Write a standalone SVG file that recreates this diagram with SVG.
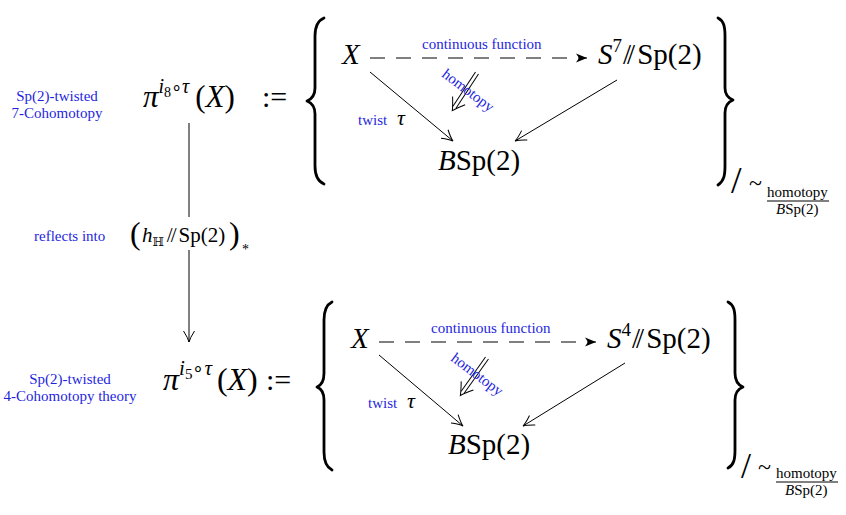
<svg xmlns="http://www.w3.org/2000/svg" width="846" height="515" viewBox="0 0 846 515" font-family="Liberation Serif, serif">
<style>
text{font-family:'Liberation Serif',serif}
.m{fill:#000}
.i{font-style:italic}
.b{fill:#1f1fe0;font-size:15px}
.ln{stroke:#000;stroke-width:1;fill:none}
.br{stroke:#000;stroke-width:2.8;fill:none;stroke-linecap:round;stroke-linejoin:round}
</style>
<defs>
<marker id="ah" viewBox="-13 -7 15 14" refX="0" refY="0" markerWidth="15" markerHeight="14" orient="auto" markerUnits="userSpaceOnUse">
<path d="M-11,-5.5 Q-4,-1 0,0 Q-4,1 -11,5.5" fill="none" stroke="#000" stroke-width="1"/>
</marker>
<marker id="st" viewBox="-13 -7 15 14" refX="0" refY="0" markerWidth="15" markerHeight="14" orient="auto" markerUnits="userSpaceOnUse">
<path d="M-11,-4.5 L0,0 L-11,4.5 L-8,0 Z" fill="#000"/>
</marker>
</defs>

<!-- left labels -->
<g id="label-top">
<text class="b" x="57" y="101" text-anchor="middle">Sp(2)-twisted</text>
<text class="b" x="57" y="118" text-anchor="middle">7-Cohomotopy</text>
</g>
<g id="label-mid">
<text class="b" x="34" y="241">reflects into</text>
</g>
<g id="label-bot">
<text class="b" x="70" y="384" text-anchor="middle">Sp(2)-twisted</text>
<text class="b" x="70" y="401" text-anchor="middle">4-Cohomotopy theory</text>
</g>

<!-- left column -->
<g id="pi-top">
<text class="m" x="143" y="107" font-size="31"><tspan class="i">π</tspan><tspan class="i" font-size="20" dy="-14">i</tspan><tspan font-size="14" dy="4">8</tspan><tspan font-size="18" dy="-4">∘</tspan><tspan class="i" font-size="20">τ</tspan><tspan dy="14" dx="6">(</tspan><tspan class="i">X</tspan><tspan>)</tspan></text>
<text class="m" x="262" y="107" font-size="30">:=</text>
</g>
<g id="reflect">
<text class="m" x="130" y="244" font-size="32">(</text>
<text class="m" x="142" y="242" font-size="21"><tspan class="i">h</tspan><tspan font-family="DejaVu Serif" font-size="12" dy="4">ℍ</tspan><tspan dy="-4" dx="3" letter-spacing="-2">//</tspan><tspan dx="4">Sp(2)</tspan></text>
<text class="m" x="229" y="244" font-size="32">)</text>
<text class="m" x="242" y="254" font-size="14">*</text>
</g>
<g id="pi-bot">
<text class="m" x="163" y="390" font-size="32"><tspan class="i">π</tspan><tspan class="i" font-size="21" dy="-15">i</tspan><tspan font-size="15" dy="4">5</tspan><tspan font-size="19" dy="-4">∘</tspan><tspan class="i" font-size="21">τ</tspan><tspan dy="15" dx="5">(</tspan><tspan class="i">X</tspan><tspan>)</tspan></text>
<text class="m" x="266" y="390" font-size="30">:=</text>
</g>

<!-- top diagram -->
<g id="brace-top">
<path class="br" d="M324,18 C317,21 315,27 315,36 L315,88 C315,95 312,99 307,101 C312,103 315,107 315,114 L315,166 C315,175 317,181 324,184"/>
<path class="br" d="M718,18 C724,21 725,27 725,36 L725,88 C725,95 728,98 733,100 C728,102 725,106 725,113 L725,166 C725,175 724,181 718,185"/>
</g>
<g id="X-top"><text class="m i" x="342" y="64" font-size="29">X</text></g>
<g id="S7"><text class="m" x="598" y="64" font-size="29"><tspan class="i">S</tspan><tspan font-size="19" dy="-12">7</tspan><tspan dy="12" dx="1" letter-spacing="-4">//</tspan><tspan dx="6">Sp(2)</tspan></text></g>
<g id="B-top"><text class="m" x="438" y="170" font-size="29"><tspan class="i">B</tspan>Sp(2)</text></g>
<g id="quot-top">
<text class="m" x="731" y="193" font-size="38">/</text>
<text class="m" x="749" y="191" font-size="24">~</text>
<text class="m" x="767" y="197" font-size="15">homotopy</text>
<line class="ln" x1="767" y1="201" x2="829" y2="201"/>
<text class="m" x="776" y="214" font-size="15"><tspan class="i">B</tspan>Sp(2)</text>
</g>

<!-- bottom diagram -->
<g id="brace-bot">
<path class="br" d="M332,302 C326,305 324,311 324,320 L324,373 C324,380 322,385 317,387 C322,389 324,393 324,400 L324,452 C324,461 326,467 332,470"/>
<path class="br" d="M728,302 C734,305 735,311 735,320 L735,373 C735,380 738,385 743,387 C738,389 735,393 735,400 L735,450 C735,459 734,465 728,468"/>
</g>
<g id="X-bot"><text class="m i" x="351" y="348" font-size="29">X</text></g>
<g id="S4"><text class="m" x="607" y="348" font-size="29"><tspan class="i">S</tspan><tspan font-size="19" dy="-12">4</tspan><tspan dy="12" dx="1" letter-spacing="-4">//</tspan><tspan dx="6">Sp(2)</tspan></text></g>
<g id="B-bot"><text class="m" x="448" y="454" font-size="29"><tspan class="i">B</tspan>Sp(2)</text></g>
<g id="quot-bot">
<text class="m" x="741" y="478" font-size="36">/</text>
<text class="m" x="758" y="475" font-size="24">~</text>
<text class="m" x="776" y="478" font-size="15">homotopy</text>
<line class="ln" x1="776" y1="482" x2="838" y2="482"/>
<text class="m" x="785" y="495" font-size="15"><tspan class="i">B</tspan>Sp(2)</text>
</g>

<!-- connectors -->
<g id="connectors">
<line class="ln" x1="189" y1="123" x2="189" y2="217"/>
<line class="ln" x1="189" y1="250" x2="189" y2="342" marker-end="url(#ah)"/>

<line class="ln" x1="370" y1="58" x2="587" y2="58" stroke-dasharray="15 11" marker-end="url(#st)"/>
<line class="ln" x1="370" y1="72" x2="453" y2="141" marker-end="url(#ah)"/>
<line class="ln" x1="617" y1="80" x2="515" y2="141" marker-end="url(#ah)"/>
<g transform="translate(477,73) rotate(123.3)">
<line class="ln" x1="0" y1="-1.8" x2="41" y2="-1.8"/>
<line class="ln" x1="0" y1="1.8" x2="41" y2="1.8"/>
<path class="ln" d="M33,-7.5 Q41,-2 45,0 Q41,2 33,7.5"/>
</g>

<line class="ln" x1="379" y1="342" x2="596" y2="342" stroke-dasharray="15 11" marker-end="url(#st)"/>
<line class="ln" x1="379" y1="355" x2="463" y2="426" marker-end="url(#ah)"/>
<line class="ln" x1="625" y1="363" x2="523" y2="426" marker-end="url(#ah)"/>
<g transform="translate(487,358) rotate(125.4)">
<line class="ln" x1="0" y1="-1.8" x2="42" y2="-1.8"/>
<line class="ln" x1="0" y1="1.8" x2="42" y2="1.8"/>
<path class="ln" d="M34,-7.5 Q42,-2 46,0 Q42,2 34,7.5"/>
</g>
</g>

<!-- connector labels -->
<g id="labels-top">
<text class="b" x="422" y="49">continuous function</text>
<text class="b" transform="translate(441,76) rotate(37)">homotopy</text>
<text class="b" x="358" y="125">twist</text>
<text class="m i" x="397" y="125" font-size="22">τ</text>
</g>
<g id="labels-bot">
<text class="b" x="431" y="333">continuous function</text>
<text class="b" transform="translate(450,360) rotate(37)">homotopy</text>
<text class="b" x="368" y="408">twist</text>
<text class="m i" x="407" y="408" font-size="22">τ</text>
</g>
</svg>
